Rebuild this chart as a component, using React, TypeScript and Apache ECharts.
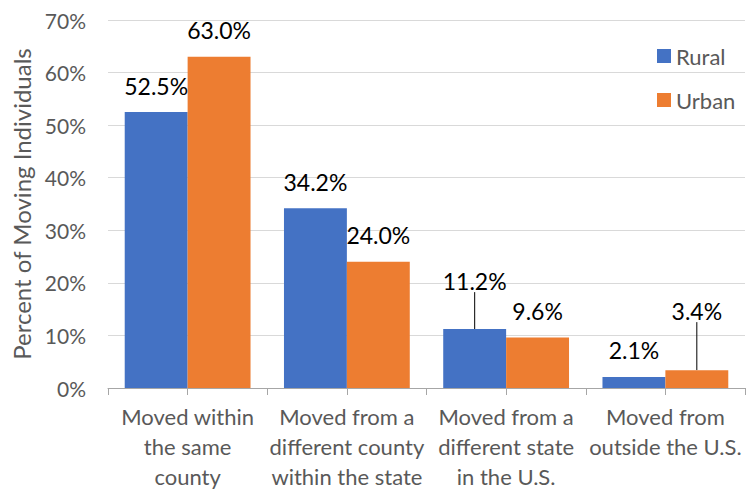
import React, { useEffect, useRef } from "react";
import * as echarts from "echarts";

const categories = [
  "Moved within\nthe same\ncounty",
  "Moved from a\ndifferent county\nwithin the state",
  "Moved from a\ndifferent state\nin the U.S.",
  "Moved from\noutside the U.S.",
];
const ruralValues = [52.5, 34.2, 11.2, 2.1];
const urbanValues = [63.0, 24.0, 9.6, 3.4];
const yTicks = [0, 10, 20, 30, 40, 50, 60, 70];

const FONT = "Lato, 'Noto Sans', sans-serif";
const GRAY = "#595959";
const BLUE = "#4472C4";
const ORANGE = "#ED7D31";

// labels lifted off their bars, joined back with a guide line
const liftedLabels: Record<string, number> = { "0-2": -22, "1-3": -33 };

export default function App() {
  const ref = useRef<HTMLDivElement>(null);

  useEffect(() => {
    if (!ref.current) return;
    const chart = echarts.init(ref.current, null, { renderer: "svg" });

    const makeData = (values: number[], seriesIndex: number) =>
      values.map((v, i) =>
        liftedLabels[`${seriesIndex}-${i}`] !== undefined
          ? { value: v, labelLine: { show: true } }
          : { value: v }
      );

    const barSeries = (name: string, color: string, values: number[], idx: number) => ({
      name,
      type: "bar",
      xAxisIndex: 0,
      data: makeData(values, idx),
      barGap: "0%",
      barCategoryGap: "21%",
      itemStyle: { color },
      label: {
        show: true,
        position: "top",
        distance: 15,
        formatter: (p: any) => `${Number(p.value).toFixed(1)}%`,
        fontFamily: FONT,
        fontSize: 23,
        color: "#000",
      },
      labelLine: {
        show: false,
        length2: 0,
        lineStyle: { color: "#000", width: 1 },
      },
      labelLayout: (params: any) => {
        const dy = liftedLabels[`${params.seriesIndex}-${params.dataIndex}`];
        return dy !== undefined ? { dy } : {};
      },
    });

    chart.setOption({
      animation: false,
      backgroundColor: "#fff",
      grid: { left: 108, right: 10, top: 20, bottom: 100, containLabel: false },
      legend: {
        orient: "vertical",
        left: 652,
        top: 40,
        itemWidth: 14,
        itemHeight: 14,
        itemGap: 22,
        icon: "rect",
        textStyle: { fontFamily: FONT, fontSize: 22, color: GRAY },
        data: ["Rural", "Urban"],
      },
      xAxis: [
        {
          type: "category",
          data: categories,
          axisLine: { show: true, lineStyle: { color: "#a6a6a6", width: 1 } },
          axisTick: { show: false },
          axisLabel: {
            fontFamily: FONT,
            fontSize: 22,
            color: GRAY,
            lineHeight: 30,
            margin: 13,
            interval: 0,
          },
        },
        {
          type: "category",
          position: "bottom",
          data: ["", "", "", "", "", "", "", ""],
          axisLine: { show: false },
          axisTick: { show: true, length: 7, interval: 0, lineStyle: { color: "#a6a6a6" } },
          axisLabel: { show: false },
          splitLine: { show: false },
        },
      ],
      yAxis: {
        type: "value",
        min: yTicks[0],
        max: yTicks[yTicks.length - 1],
        interval: 10,
        name: "Percent of Moving Individuals",
        nameLocation: "middle",
        nameGap: 74,
        nameTextStyle: { fontFamily: FONT, fontSize: 24, color: GRAY },
        axisLine: { show: false },
        axisTick: { show: false },
        axisLabel: {
          formatter: "{value}%",
          fontFamily: FONT,
          fontSize: 21,
          color: GRAY,
          margin: 22,
        },
        splitLine: { lineStyle: { color: "#d9d9d9", width: 1 } },
      },
      series: [
        barSeries("Rural", BLUE, ruralValues, 0),
        barSeries("Urban", ORANGE, urbanValues, 1),
      ],
    });

    return () => chart.dispose();
  }, []);

  return (
    <div
      ref={ref}
      style={{ position: "fixed", left: 0, top: 0, width: 755, height: 491, background: "#fff" }}
    />
  );
}
